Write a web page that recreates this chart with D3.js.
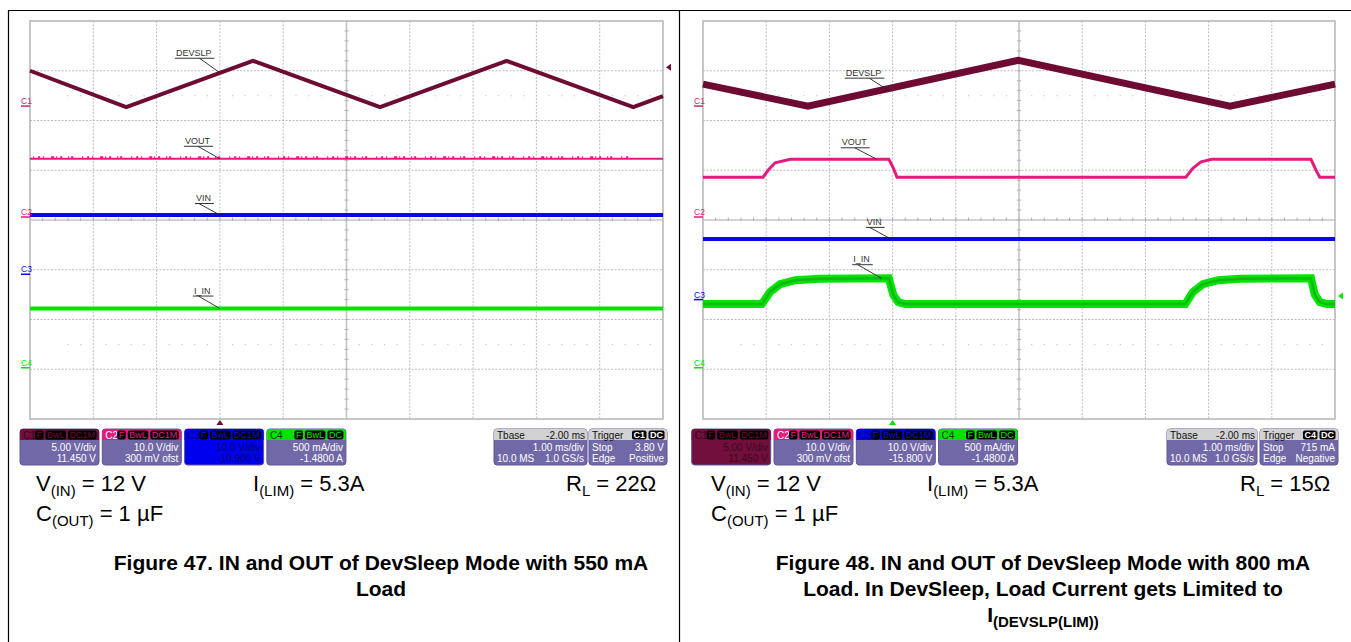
<!DOCTYPE html>
<html>
<head>
<meta charset="utf-8">
<script src="https://cdn.jsdelivr.net/npm/d3@7"></script>
<style>
  body { margin: 0; background: #fff; }
  svg { display: block; font-family: "Liberation Sans", Arial, sans-serif; }
</style>
</head>
<body>
<script>
// Scope readings, in divisions (x: 0..10 across the screen, y: -4..4 from centre)

// Figure 47 (left screen)
const leftDevslpT = [0, 1.52, 3.52, 5.53, 7.53, 9.53, 10]
const leftDevslpV = [3.0, 2.27, 3.2, 2.27, 3.2, 2.27, 2.49]
const leftVoutT = [0, 10]
const leftVoutV = [1.23, 1.23]
const leftVinT = [0, 10]
const leftVinV = [0.1, 0.1]
const leftIinT = [0, 10]
const leftIinV = [-1.78, -1.78]

// Figure 48 (right screen)
const rightDevslpT = [0, 1.66, 4.99, 8.34, 10]
const rightDevslpV = [2.73, 2.29, 3.21, 2.29, 2.73]
const rightVoutT = [0, 0.95, 1.03, 1.14, 1.38, 2.94, 3.01, 3.07, 7.64, 7.75, 7.88, 8.05, 9.62, 9.70, 9.76, 10]
const rightVoutV = [0.86, 0.86, 1.0, 1.15, 1.22, 1.22, 1.05, 0.86, 0.86, 1.04, 1.17, 1.22, 1.22, 1.0, 0.86, 0.86]
const rightVinT = [0, 10]
const rightVinV = [-0.38, -0.38]
const rightIinT = [0, 0.93, 1.06, 1.22, 1.46, 1.85, 2.94, 3.01, 3.09, 3.2, 7.63, 7.75, 7.91, 8.15, 8.5, 9.62, 9.68, 9.76, 9.87, 10]
const rightIinV = [-1.69, -1.69, -1.45, -1.29, -1.21, -1.18, -1.17, -1.5, -1.65, -1.69, -1.69, -1.45, -1.29, -1.21, -1.18, -1.17, -1.5, -1.65, -1.69, -1.69]

// channel ground markers and trigger levels (div)
const leftChanLevels = [2.29, 0.06, -1.09, -2.97]
const rightChanLevels = [2.29, 0.06, -1.6, -2.97]
const leftTrigLevel = 3.07
const rightTrigLevel = -1.53
const trigTime = 3

// readout boxes
const chanNames = ["C1", "C2", "C3", "C4"]
const chanTags = [["F", "BwL", "DC1M"], ["F", "BwL", "DC1M"], ["F", "BwL", "DC1M"], ["F", "BwL", "DC"]]
const leftChanScale = ["5.00 V/div", "10.0 V/div", "10.0 V/div", "500 mA/div"]
const leftChanOffset = ["11.450 V", "300 mV ofst", "-10.900 V", "-1.4800 A"]
const rightChanScale = ["5.00 V/div", "10.0 V/div", "10.0 V/div", "500 mA/div"]
const rightChanOffset = ["11.450 V", "300 mV ofst", "-15.800 V", "-1.4800 A"]
const tbaseText = ["Tbase", "-2.00 ms", "1.00 ms/div", "10.0 MS", "1.0 GS/s"]
const leftTrigText = ["C1", "DC", "Stop", "3.80 V", "Edge", "Positive"]
const rightTrigText = ["C4", "DC", "Stop", "715 mA", "Edge", "Negative"]

var colC1 = "#6d0b34"
var colC2 = "#e8197d"
var colC3 = "#0a0ae0"
var colC4 = "#00e400"
var chanColors = [colC1, colC2, colC3, colC4]
var boxBody = "#7168a8"

var W = 1351, H = 642
var svg = d3.select("body").append("svg").attr("width", W).attr("height", H)

// table borders
svg.append("line").attr("x1", 8.5).attr("x2", 8.5).attr("y1", 10).attr("y2", H).attr("stroke", "#000").attr("stroke-width", 1.2)
svg.append("line").attr("x1", 8).attr("x2", W).attr("y1", 10.5).attr("y2", 10.5).attr("stroke", "#000").attr("stroke-width", 1.2)
svg.append("line").attr("x1", 679.5).attr("x2", 679.5).attr("y1", 10).attr("y2", H).attr("stroke", "#000").attr("stroke-width", 1.2)

function zip(t, v) {
  return t.map(function(d, i) { return [d, v[i]] })
}

function drawPanel(cfg) {
  var g = svg.append("g")
  var x = d3.scaleLinear().domain([0, 10]).range([cfg.x0, cfg.x1])
  var y = d3.scaleLinear().domain([-4, 4]).range([cfg.y1, cfg.y0])

  // graticule
  x.ticks(10).forEach(function(t) {
    if (t === 0 || t === 10) return
    g.append("line").attr("x1", x(t)).attr("x2", x(t)).attr("y1", cfg.y0).attr("y2", cfg.y1)
      .attr("stroke", t === 5 ? "#c4c4c4" : "#bdbdbd")
      .attr("stroke-width", t === 5 ? 1.6 : 1)
      .attr("stroke-dasharray", t === 5 ? null : "2,1.5")
  })
  y.ticks(8).forEach(function(t) {
    if (t === -4 || t === 4) return
    g.append("line").attr("x1", cfg.x0).attr("x2", cfg.x1).attr("y1", y(t)).attr("y2", y(t))
      .attr("stroke", t === 0 ? "#c4c4c4" : "#bdbdbd")
      .attr("stroke-width", t === 0 ? 1.6 : 1)
      .attr("stroke-dasharray", t === 0 ? null : "2,1.5")
  })
  // minor ticks on the centre lines
  d3.range(0.2, 10, 0.2).forEach(function(t) {
    g.append("line").attr("x1", x(t)).attr("x2", x(t)).attr("y1", y(0) - 2.5).attr("y2", y(0) + 1)
      .attr("stroke", "#b0b0b0").attr("stroke-width", 1)
  })
  d3.range(-3.8, 4, 0.2).forEach(function(t) {
    g.append("line").attr("x1", x(5) - 2).attr("x2", x(5) + 2).attr("y1", y(t)).attr("y2", y(t))
      .attr("stroke", "#b0b0b0").attr("stroke-width", 1)
  })
  // dotted rows at +-2.5 div
  ;[2.5, -2.5].forEach(function(lv) {
    d3.range(0.6, 10, 0.2).forEach(function(t) {
      if (Math.abs(t - Math.round(t)) < 0.05) return
      g.append("rect").attr("x", x(t) - 0.5).attr("y", y(lv) - 0.5).attr("width", 1.2).attr("height", 1.2).attr("fill", "#c8c8c8")
    })
  })
  g.append("rect").attr("x", cfg.x0).attr("y", cfg.y0).attr("width", cfg.x1 - cfg.x0).attr("height", cfg.y1 - cfg.y0)
    .attr("fill", "none").attr("stroke", "#b4b4b4").attr("stroke-width", 1.5)

  var line = d3.line().x(function(d) { return x(d[0]) }).y(function(d) { return y(d[1]) })

  // traces
  cfg.traces.forEach(function(tr) {
    g.append("path").datum(zip(tr.t, tr.v)).attr("d", line)
      .attr("fill", "none").attr("stroke", tr.color).attr("stroke-width", tr.width)
      .attr("stroke-linejoin", "miter")
    if (tr.core) {
      g.append("path").datum(zip(tr.t, tr.v)).attr("d", line)
        .attr("fill", "none").attr("stroke", tr.core).attr("stroke-width", tr.coreWidth)
    }
    if (tr.noise) {
      g.append("line").attr("x1", x(tr.noise[0])).attr("x2", x(tr.noise[1]))
        .attr("y1", y(tr.v[0]) - 1.5).attr("y2", y(tr.v[0]) - 1.5)
        .attr("stroke", tr.color).attr("stroke-width", 2)
        .attr("stroke-dasharray", "1,4,2,3,1,7,3,2,1,3,2,6,1,2,2,9")
    }
  })

  // trace labels with leader lines
  cfg.labels.forEach(function(lb) {
    var ex = x(lb.t), ey = y(lb.v)
    var tx = ex - lb.dx, uy = ey - lb.dy
    var txt = g.append("text").attr("x", tx).attr("y", uy - 2).attr("font-size", 9).attr("fill", "#333").text(lb.name)
    var w = txt.node().getComputedTextLength()
    g.append("line").attr("x1", tx - 1).attr("x2", tx + w + 3).attr("y1", uy + 0.5).attr("y2", uy + 0.5).attr("stroke", "#333").attr("stroke-width", 1)
    g.append("line").attr("x1", tx + w - 12).attr("x2", ex).attr("y1", uy + 0.5).attr("y2", ey).attr("stroke", "#222").attr("stroke-width", 0.9)
  })

  // channel ground markers
  cfg.chanLevels.forEach(function(lv, i) {
    var c = i === 0 ? "#c0306a" : chanColors[i]
    g.append("text").attr("x", cfg.x0 - 9).attr("y", y(lv) - 2).attr("font-size", 8.5).attr("fill", c).text(chanNames[i])
    g.append("line").attr("x1", cfg.x0 - 9).attr("x2", cfg.x0).attr("y1", y(lv)).attr("y2", y(lv))
      .attr("stroke", c).attr("stroke-width", 1.5)
  })

  // trigger markers
  var ty = y(cfg.trigLevel)
  g.append("path").attr("d", "M" + (cfg.x1 + 3) + "," + ty + "l5,-3.5l0,7z").attr("fill", cfg.trigColor)
  var tx0 = x(trigTime)
  g.append("path").attr("d", "M" + tx0 + "," + (cfg.y1 + 1) + "l3.5,5l-7,0z").attr("fill", cfg.trigColor)

  // readout boxes
  var by = 429, bh = 36
  chanNames.forEach(function(name, i) {
    var bx = cfg.boxX + i * 82.3, bw = 79
    var sel = cfg.selected === i
    var col = chanColors[i]
    var bg = g.append("g")
    bg.append("rect").attr("x", bx).attr("y", by).attr("width", bw).attr("height", bh).attr("rx", 3)
      .attr("fill", sel ? (i === 0 ? "#720f3c" : "#0000ee") : boxBody).attr("stroke", "#5e5696").attr("stroke-width", 1)
    bg.append("path").attr("d", "M" + bx + "," + (by + 11) + "V" + (by + 3) + "q0,-3 3,-3H" + (bx + bw - 3) + "q3,0 3,3V" + (by + 11) + "z")
      .attr("fill", i === 0 ? "#720f3c" : (i === 2 ? "#0000ee" : col))
    bg.append("text").attr("x", bx + 3).attr("y", by + 9.5).attr("font-size", 10)
      .attr("fill", i === 1 ? "#fff" : (i === 0 ? "#2e0614" : (i === 2 ? "#000066" : "#003300"))).text(name)
    var right = bx + bw - 2
    chanTags[i].slice().reverse().forEach(function(tag) {
      var t = bg.append("text").attr("y", by + 9).attr("font-size", 9).attr("fill", col).text(tag)
      var tw = t.node().getComputedTextLength()
      t.attr("x", right - tw - 2)
      bg.insert("rect", "text:last-child").attr("x", right - tw - 3.5).attr("y", by + 1.5).attr("width", tw + 3).attr("height", 9).attr("rx", 2).attr("fill", "#000")
      right = right - tw - 5
    })
    var bodyText = sel ? (i === 0 ? "#3c0a1e" : "#000070") : "#fff"
    bg.append("text").attr("x", bx + bw - 3).attr("y", by + 21.5).attr("text-anchor", "end").attr("font-size", 10).attr("fill", bodyText).text(cfg.chanScale[i])
    bg.append("text").attr("x", bx + bw - 3).attr("y", by + 33).attr("text-anchor", "end").attr("font-size", 10).attr("fill", bodyText).text(cfg.chanOffset[i])
  })

  // timebase box
  var tb = g.append("g"), tbx = cfg.tbaseX, tbw = cfg.tbaseW
  tb.append("rect").attr("x", tbx).attr("y", by).attr("width", tbw).attr("height", bh).attr("rx", 3).attr("fill", boxBody).attr("stroke", "#5e5696")
  tb.append("path").attr("d", "M" + tbx + "," + (by + 11) + "V" + (by + 3) + "q0,-3 3,-3H" + (tbx + tbw - 3) + "q3,0 3,3V" + (by + 11) + "z").attr("fill", "#d2d2d2")
  tb.append("text").attr("x", tbx + 3).attr("y", by + 9.5).attr("font-size", 10).attr("fill", "#111").text(tbaseText[0])
  tb.append("text").attr("x", tbx + tbw - 2).attr("y", by + 9.5).attr("text-anchor", "end").attr("font-size", 10).attr("fill", "#111").text(tbaseText[1])
  tb.append("text").attr("x", tbx + tbw - 3).attr("y", by + 21.5).attr("text-anchor", "end").attr("font-size", 10).attr("fill", "#fff").text(tbaseText[2])
  tb.append("text").attr("x", tbx + 3).attr("y", by + 33).attr("font-size", 10).attr("fill", "#fff").text(tbaseText[3])
  tb.append("text").attr("x", tbx + tbw - 3).attr("y", by + 33).attr("text-anchor", "end").attr("font-size", 10).attr("fill", "#fff").text(tbaseText[4])

  // trigger box
  var tg = g.append("g"), trx = cfg.trigX, trw = 78, tt = cfg.trigText
  tg.append("rect").attr("x", trx).attr("y", by).attr("width", trw).attr("height", bh).attr("rx", 3).attr("fill", boxBody).attr("stroke", "#5e5696")
  tg.append("path").attr("d", "M" + trx + "," + (by + 11) + "V" + (by + 3) + "q0,-3 3,-3H" + (trx + trw - 3) + "q3,0 3,3V" + (by + 11) + "z").attr("fill", "#d2d2d2")
  tg.append("text").attr("x", trx + 3).attr("y", by + 9.5).attr("font-size", 10).attr("fill", "#111").text("Trigger")
  var rr = trx + trw - 2
  ;[tt[1], tt[0]].forEach(function(tag) {
    var t = tg.append("text").attr("y", by + 9).attr("font-size", 9).attr("font-weight", "bold").attr("fill", "#fff").text(tag)
    var tw = t.node().getComputedTextLength()
    t.attr("x", rr - tw - 2)
    tg.insert("rect", "text:last-child").attr("x", rr - tw - 3.5).attr("y", by + 1.5).attr("width", tw + 3).attr("height", 9).attr("rx", 2).attr("fill", "#000")
    rr = rr - tw - 5
  })
  tg.append("text").attr("x", trx + 3).attr("y", by + 21.5).attr("font-size", 10).attr("fill", "#fff").text(tt[2])
  tg.append("text").attr("x", trx + trw - 3).attr("y", by + 21.5).attr("text-anchor", "end").attr("font-size", 10).attr("fill", "#fff").text(tt[3])
  tg.append("text").attr("x", trx + 3).attr("y", by + 33).attr("font-size", 10).attr("fill", "#fff").text(tt[4])
  tg.append("text").attr("x", trx + trw - 3).attr("y", by + 33).attr("text-anchor", "end").attr("font-size", 10).attr("fill", "#fff").text(tt[5])

  // conditions text
  function subText(px, py, main, sub, rest) {
    var t = svg.append("text").attr("x", px).attr("y", py).attr("font-size", 22).attr("fill", "#000")
    t.append("tspan").text(main)
    t.append("tspan").attr("font-size", 15).attr("dy", 5).text(sub)
    t.append("tspan").attr("dy", -5).text(rest)
  }
  subText(cfg.condX[0], 491, "V", "(IN)", " = 12 V")
  subText(cfg.condX[0], 521, "C", "(OUT)", " = 1 µF")
  subText(cfg.condX[1], 491, "I", "(LIM)", " = 5.3A")
  subText(cfg.condX[2], 491, "R", "L", cfg.rl)

  // caption
  cfg.caption.forEach(function(ln, i) {
    var t = svg.append("text").attr("x", cfg.capX).attr("y", 570 + i * 26).attr("text-anchor", "middle")
      .attr("font-size", 21).attr("font-weight", "bold").attr("fill", "#000")
    t.append("tspan").text(ln[0])
    if (ln[1]) t.append("tspan").attr("font-size", 15).attr("dy", 5).text(ln[1])
  })
}

drawPanel({
  x0: 30, x1: 663, y0: 21, y1: 419,
  traces: [
    { t: leftDevslpT, v: leftDevslpV, color: colC1, width: 4 },
    { t: leftVoutT, v: leftVoutV, color: colC2, width: 2, noise: [0.05, 9.45] },
    { t: leftVinT, v: leftVinV, color: colC3, width: 4 },
    { t: leftIinT, v: leftIinV, color: colC4, width: 4 }
  ],
  labels: [
    { name: "DEVSLP", t: 3, v: 2.96, dx: 44, dy: 15 },
    { name: "VOUT", t: 3, v: leftVoutV[0], dx: 35, dy: 13 },
    { name: "VIN", t: 3, v: leftVinV[0], dx: 24, dy: 12 },
    { name: "I_IN", t: 3, v: leftIinV[0], dx: 26, dy: 13 }
  ],
  chanLevels: leftChanLevels,
  trigLevel: leftTrigLevel, trigColor: colC1,
  boxX: 20, selected: 2,
  chanScale: leftChanScale, chanOffset: leftChanOffset,
  tbaseX: 494, tbaseW: 93, trigX: 589, trigText: leftTrigText,
  condX: [36, 253, 566], rl: " = 22Ω",
  capX: 381,
  caption: [["Figure 47. IN and OUT of DevSleep Mode with 550 mA"], ["Load"]]
})

drawPanel({
  x0: 703, x1: 1335, y0: 21, y1: 419,
  traces: [
    { t: rightDevslpT, v: rightDevslpV, color: colC1, width: 7 },
    { t: rightVoutT, v: rightVoutV, color: colC2, width: 3 },
    { t: rightVinT, v: rightVinV, color: colC3, width: 4 },
    { t: rightIinT, v: rightIinV, color: colC4, width: 8, core: "#14b814", coreWidth: 2.5 }
  ],
  labels: [
    { name: "DEVSLP", t: 2.94, v: 2.6, dx: 43, dy: 13 },
    { name: "VOUT", t: 2.75, v: 1.22, dx: 35, dy: 12 },
    { name: "VIN", t: 2.97, v: rightVinV[0], dx: 24, dy: 12 },
    { name: "I_IN", t: 2.82, v: -1.17, dx: 28, dy: 14 }
  ],
  chanLevels: rightChanLevels,
  trigLevel: rightTrigLevel, trigColor: colC4,
  boxX: 691.7, selected: 0,
  chanScale: rightChanScale, chanOffset: rightChanOffset,
  tbaseX: 1167, tbaseW: 90, trigX: 1260, trigText: rightTrigText,
  condX: [711, 927, 1240], rl: " = 15Ω",
  capX: 1043,
  caption: [["Figure 48. IN and OUT of DevSleep Mode with 800 mA"], ["Load. In DevSleep, Load Current gets Limited to"], ["I", "(DEVSLP(LIM))"]]
})
</script>
</body>
</html>
